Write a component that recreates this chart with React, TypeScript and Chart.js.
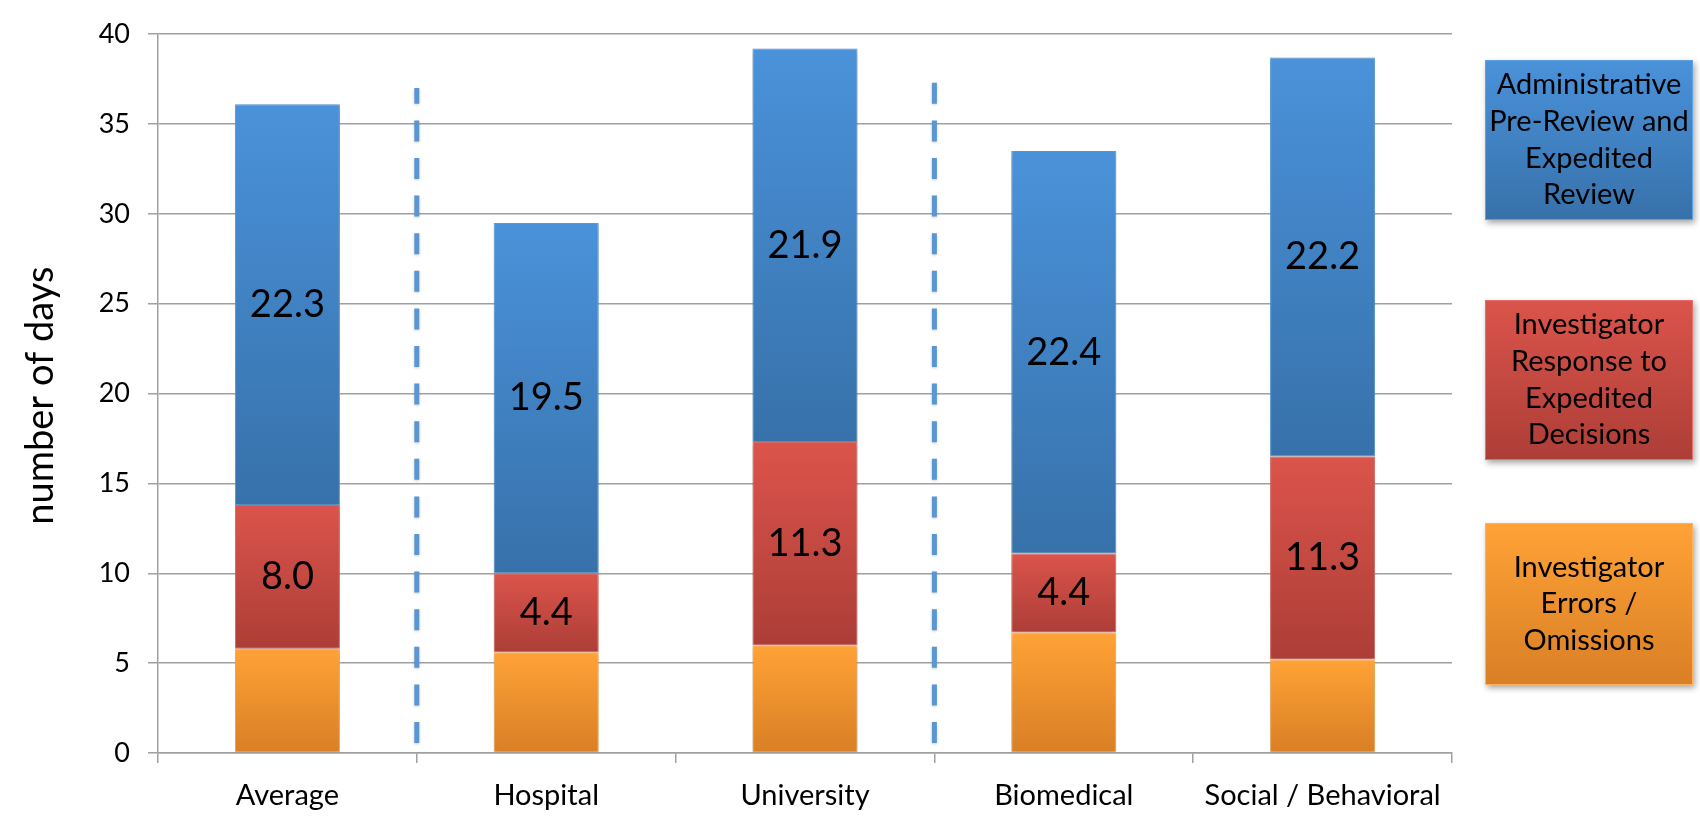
import React, { useEffect, useRef } from "react";
import { Chart, registerables } from "chart.js";

Chart.register(...registerables);

// ---------- data ----------
const categories = ["Average", "Hospital", "University", "Biomedical", "Social / Behavioral"];
const errorsOmissions = [5.8, 5.6, 6.0, 6.7, 5.2];
const investigatorResponse = [8.0, 4.4, 11.3, 4.4, 11.3];
const adminReview = [22.3, 19.5, 21.9, 22.4, 22.2];
const seriesNames = [
  "Investigator Errors / Omissions",
  "Investigator Response to Expedited Decisions",
  "Administrative Pre-Review and Expedited Review",
];
const labelledSeries = [1, 2];
const legendLines = [
  ["Administrative", "Pre-Review and", "Expedited", "Review"],
  ["Investigator", "Response to", "Expedited", "Decisions"],
  ["Investigator", "Errors /", "Omissions"],
];
const dividerAfterIndex = [0, 2];
const dividerTopValue = [37.0, 37.4];
const yMin = 0;
const yMax = 40;
const yStep = 5;
const yTitle = "number of days";

// ---------- styles ----------
const FONT = "Lato, 'Open Sans', 'DejaVu Sans', sans-serif";
const colors = {
  orange: { top: "#FFA236", bottom: "#D97F25", border: "#FFB25A" },
  red: { top: "#DB544B", bottom: "#AC3E37", border: "#E3716A" },
  blue: { top: "#4A92DA", bottom: "#3771AA", border: "#5FA2E2" },
};
const legendColors = [colors.blue, colors.red, colors.orange];
const legendBoxes = [
  { top: 60, height: 160 },
  { top: 300, height: 160 },
  { top: 523, height: 162 },
];

function segGradient(top: string, bottom: string) {
  return (ctx: any) => {
    const chart = ctx.chart;
    const y = chart.scales && chart.scales.y;
    if (!y || ctx.type !== "data") return top;
    const di = ctx.datasetIndex;
    const i = ctx.dataIndex;
    let base = 0;
    for (let k = 0; k < di; k++) base += chart.data.datasets[k].data[i] as number;
    const v = chart.data.datasets[di].data[i] as number;
    const y0 = y.getPixelForValue(base + v);
    const y1 = y.getPixelForValue(base);
    if (!isFinite(y0) || !isFinite(y1) || y0 === y1) return top;
    const g = chart.ctx.createLinearGradient(0, y0, 0, y1);
    g.addColorStop(0, top);
    g.addColorStop(1, bottom);
    return g;
  };
}

const overlayPlugin = {
  id: "overlay",
  beforeDatasetsDraw(chart: any) {
    const ctx = chart.ctx;
    ctx.save();
    ctx.shadowColor = "rgba(0,0,0,0.28)";
    ctx.shadowBlur = 5;
    ctx.shadowOffsetX = 0;
    ctx.shadowOffsetY = 1;
  },
  afterDatasetsDraw(chart: any) {
    const ctx = chart.ctx;
    ctx.restore();
    const x = chart.scales.x;
    const y = chart.scales.y;

    // dashed dividers
    ctx.save();
    ctx.strokeStyle = "#5A97D2";
    ctx.lineWidth = 5;
    ctx.setLineDash([21, 16.6]);
    ctx.lineDashOffset = 27.6;
    ctx.shadowColor = "rgba(0,0,0,0.2)";
    ctx.shadowBlur = 3;
    ctx.shadowOffsetY = 1;
    dividerAfterIndex.forEach((idx, k) => {
      const px = (x.getPixelForValue(idx) + x.getPixelForValue(idx + 1)) / 2;
      ctx.beginPath();
      ctx.moveTo(px, y.getPixelForValue(0));
      ctx.lineTo(px, y.getPixelForValue(dividerTopValue[k]));
      ctx.stroke();
    });
    ctx.restore();

    // value labels
    ctx.save();
    ctx.fillStyle = "#000";
    ctx.font = `38px ${FONT}`;
    ctx.textAlign = "center";
    ctx.textBaseline = "middle";
    labelledSeries.forEach((d) => {
      const meta = chart.getDatasetMeta(d);
      meta.data.forEach((el: any, i: number) => {
        const v = chart.data.datasets[d].data[i] as number;
        ctx.fillText(v.toFixed(1), el.x, (el.y + el.base) / 2);
      });
    });
    ctx.restore();
  },
  afterDraw(chart: any) {
    const ctx = chart.ctx;
    const area = chart.chartArea;

    // y axis title
    ctx.save();
    ctx.translate(41, (area.top + area.bottom) / 2 + 2);
    ctx.rotate(-Math.PI / 2);
    ctx.fillStyle = "#000";
    ctx.font = `38px ${FONT}`;
    ctx.textAlign = "center";
    ctx.textBaseline = "middle";
    ctx.fillText(yTitle, 0, 0);
    ctx.restore();

    // legend boxes
    const left = area.right + 33;
    const right = chart.width - 7;
    legendBoxes.forEach((b, k) => {
      const c = legendColors[k];
      ctx.save();
      ctx.shadowColor = "rgba(0,0,0,0.35)";
      ctx.shadowBlur = 6;
      ctx.shadowOffsetX = 2;
      ctx.shadowOffsetY = 3;
      const g = ctx.createLinearGradient(0, b.top, 0, b.top + b.height);
      g.addColorStop(0, c.top);
      g.addColorStop(1, c.bottom);
      ctx.fillStyle = g;
      ctx.fillRect(left, b.top, right - left, b.height);
      ctx.restore();
      ctx.save();
      ctx.strokeStyle = c.border;
      ctx.lineWidth = 1;
      ctx.strokeRect(left + 0.5, b.top + 0.5, right - left - 1, b.height - 1);
      ctx.fillStyle = "#000";
      ctx.font = `29px ${FONT}`;
      ctx.textAlign = "center";
      ctx.textBaseline = "middle";
      const lines = legendLines[k];
      const lh = 36.7;
      const cy = b.top + b.height / 2;
      lines.forEach((t, j) => {
        ctx.fillText(t, (left + right) / 2, cy + (j - (lines.length - 1) / 2) * lh);
      });
      ctx.restore();
    });
  },
};

export default function App() {
  const ref = useRef<HTMLCanvasElement | null>(null);
  useEffect(() => {
    document.body.style.margin = "0";
    const canvas = ref.current;
    if (!canvas) return;
    const seriesColors = [colors.orange, colors.red, colors.blue];
    const seriesData = [errorsOmissions, investigatorResponse, adminReview];
    const chart = new Chart(canvas, {
      type: "bar",
      data: {
        labels: categories,
        datasets: seriesData.map((d, k) => ({
          label: seriesNames[k],
          data: d,
          backgroundColor: segGradient(seriesColors[k].top, seriesColors[k].bottom) as any,
          borderColor: seriesColors[k].border,
          borderWidth: 1,
          borderSkipped: false,
          categoryPercentage: 1,
          barPercentage: 0.406,
        })),
      },
      options: {
        animation: false,
        responsive: false,
        devicePixelRatio: 1,
        layout: { padding: { top: 29, right: 248, left: 0, bottom: 0 } },
        plugins: {
          legend: { display: false },
          tooltip: { enabled: false },
          title: { display: false },
        },
        scales: {
          x: {
            stacked: true,
            offset: true,
            grid: {
              display: true,
              drawOnChartArea: false,
              drawTicks: true,
              tickLength: 10,
              offset: true,
              color: "#A0A0A0",
              lineWidth: 1.5,
            },
            border: { display: true, color: "#A0A0A0", width: 1.5 },
            ticks: {
              color: "#000",
              font: { family: FONT, size: 29 },
              padding: 15,
              maxRotation: 0,
              autoSkip: false,
            },
            afterFit: (s: any) => {
              s.height = 69;
            },
          },
          y: {
            stacked: true,
            min: yMin,
            max: yMax,
            grid: {
              color: "#A0A0A0",
              lineWidth: 1.5,
              drawTicks: true,
              tickLength: 10,
            },
            border: { display: true, color: "#A0A0A0", width: 1.5 },
            ticks: {
              stepSize: yStep,
              color: "#000",
              font: { family: FONT, size: 27 },
              padding: 18,
            },
            afterFit: (s: any) => {
              s.width = 158;
            },
          },
        },
      },
      plugins: [overlayPlugin],
    });
    if ((document as any).fonts && (document as any).fonts.ready) {
      (document as any).fonts.ready.then(() => chart.update());
    }
    return () => chart.destroy();
  }, []);
  return (
    <div style={{ width: 1700, height: 822 }}>
      <canvas ref={ref} width={1700} height={822} style={{ display: "block" }} />
    </div>
  );
}
